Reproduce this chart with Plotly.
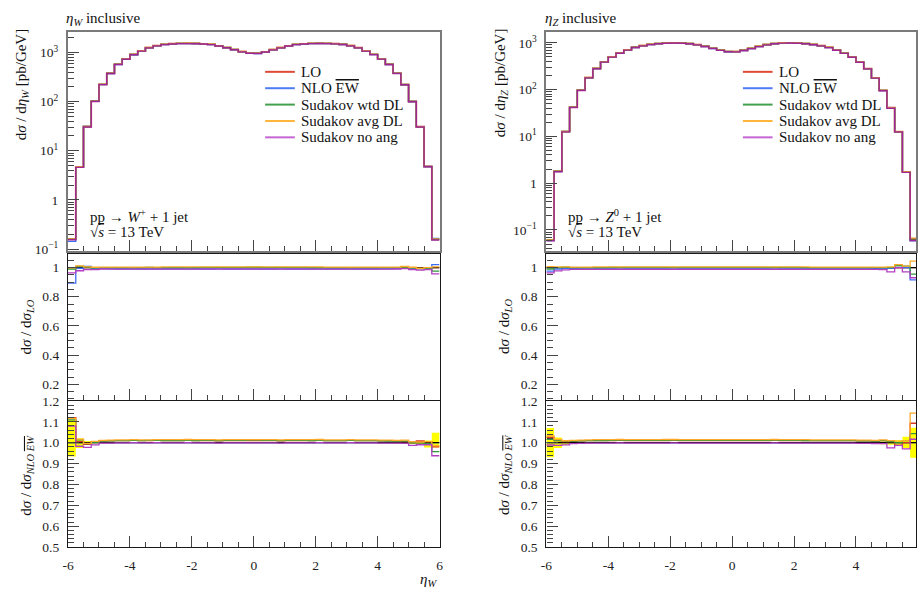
import numpy as np
import plotly.graph_objects as go

# ---------------- data ----------------
eta_min, eta_max, n_bins = -6.0, 6.0, 48
edges = np.linspace(eta_min, eta_max, n_bins + 1)

# LO differential cross sections [pb/GeV]
w_lo = [0.16, 4.7, 31, 102, 224, 377, 577, 737, 912, 1079, 1257, 1378,
        1465, 1510, 1530, 1535, 1528, 1505, 1462, 1370, 1262, 1150, 1040, 975,
        965, 1035, 1145, 1258, 1368, 1460, 1508, 1530, 1536, 1532, 1512, 1468,
        1380, 1255, 1080, 915, 740, 575, 378, 222, 101, 31, 4.8, 0.16]
z_lo = [0.061, 1.8, 12.7, 42, 97, 180, 283, 390, 500, 605, 705, 800,
        870, 925, 965, 990, 1000, 992, 962, 912, 842, 765, 695, 652,
        648, 690, 760, 838, 915, 965, 995, 1002, 988, 962, 922, 868,
        798, 700, 600, 495, 388, 280, 178, 96, 41, 12.5, 1.75, 0.064]

# ratios to LO (W)
w_nlo_r = [0.893, 0.995, 1.008, 0.996, 0.992, 0.991, 0.990, 0.990, 0.989, 0.990, 0.990, 0.989,
           0.990, 0.990, 0.990, 0.989, 0.990, 0.990, 0.990, 0.991, 0.990, 0.990, 0.990, 0.990,
           0.990, 0.990, 0.990, 0.991, 0.990, 0.990, 0.990, 0.990, 0.989, 0.990, 0.990, 0.990,
           0.989, 0.990, 0.990, 0.990, 0.991, 0.991, 0.992, 0.995, 0.998, 0.992, 0.995, 1.020]
w_wtd_r = [0.990, 1.008, 1.003, 0.998, 1.000, 1.000, 1.000, 1.000, 1.000, 1.000, 1.001, 1.000,
           1.000, 1.000, 1.000, 1.000, 1.000, 1.001, 1.001, 1.001, 1.001, 1.001, 1.001, 1.002,
           1.002, 1.001, 1.001, 1.001, 1.001, 1.001, 1.001, 1.000, 1.000, 1.000, 1.000, 1.000,
           1.000, 1.000, 1.000, 1.000, 1.000, 0.999, 1.000, 1.002, 0.998, 0.992, 0.990, 0.976]
w_avg_r = [0.997, 1.012, 1.005, 1.002, 1.003, 1.003, 1.003, 1.003, 1.003, 1.003, 1.003, 1.003,
           1.004, 1.004, 1.004, 1.004, 1.004, 1.004, 1.004, 1.004, 1.004, 1.004, 1.004, 1.004,
           1.004, 1.004, 1.004, 1.004, 1.004, 1.004, 1.004, 1.004, 1.004, 1.003, 1.003, 1.003,
           1.003, 1.003, 1.003, 1.003, 1.003, 1.003, 1.003, 1.007, 1.002, 0.995, 1.000, 1.005]
w_noang_r = [0.964, 0.978, 0.985, 0.985, 0.990, 0.989, 0.989, 0.989, 0.989, 0.989, 0.989, 0.989,
             0.989, 0.989, 0.989, 0.989, 0.989, 0.989, 0.989, 0.989, 0.989, 0.989, 0.989, 0.989,
             0.989, 0.989, 0.989, 0.989, 0.989, 0.989, 0.989, 0.989, 0.989, 0.989, 0.989, 0.989,
             0.989, 0.989, 0.989, 0.989, 0.989, 0.989, 0.990, 0.992, 0.985, 0.982, 0.985, 0.956]
# NLO EW uncertainty band relative to NLO (W)
w_band_hi = [1.110, 1.020, 1.008, 1.004, 1.003, 1.003, 1.002, 1.002, 1.002, 1.002, 1.002, 1.002,
             1.002, 1.002, 1.002, 1.002, 1.002, 1.002, 1.002, 1.002, 1.002, 1.002, 1.002, 1.002,
             1.002, 1.002, 1.002, 1.002, 1.002, 1.002, 1.002, 1.002, 1.002, 1.002, 1.002, 1.002,
             1.002, 1.002, 1.002, 1.002, 1.003, 1.003, 1.004, 1.005, 1.006, 1.008, 1.010, 1.047]
w_band_lo = [0.934, 0.975, 0.992, 0.996, 0.997, 0.997, 0.998, 0.998, 0.998, 0.998, 0.998, 0.998,
             0.998, 0.998, 0.998, 0.998, 0.998, 0.998, 0.998, 0.998, 0.998, 0.998, 0.998, 0.998,
             0.998, 0.998, 0.998, 0.998, 0.998, 0.998, 0.998, 0.998, 0.998, 0.998, 0.998, 0.998,
             0.998, 0.998, 0.998, 0.998, 0.997, 0.997, 0.996, 0.995, 0.994, 0.990, 0.977, 0.977]

# ratios to LO (Z)
z_nlo_r = [0.975, 0.990, 0.995, 0.992, 0.991, 0.990, 0.990, 0.990, 0.990, 0.989, 0.990, 0.990,
           0.990, 0.990, 0.990, 0.990, 0.989, 0.990, 0.990, 0.990, 0.990, 0.990, 0.990, 0.990,
           0.990, 0.990, 0.990, 0.990, 0.990, 0.989, 0.990, 0.990, 0.990, 0.990, 0.990, 0.990,
           0.990, 0.990, 0.990, 0.990, 0.991, 0.991, 0.992, 0.990, 0.995, 1.013, 1.000, 0.915]
z_wtd_r = [0.990, 1.000, 1.002, 1.000, 1.000, 1.000, 1.000, 1.000, 1.001, 1.001, 1.001, 1.001,
           1.001, 1.001, 1.001, 1.001, 1.001, 1.001, 1.001, 1.001, 1.001, 1.001, 1.001, 1.001,
           1.001, 1.001, 1.001, 1.001, 1.001, 1.001, 1.001, 1.001, 1.001, 1.000, 1.000, 1.000,
           1.000, 1.000, 1.000, 1.000, 1.000, 1.000, 1.000, 1.000, 1.000, 1.013, 1.010, 0.955]
z_avg_r = [1.006, 1.005, 1.004, 1.003, 1.003, 1.003, 1.004, 1.004, 1.004, 1.004, 1.004, 1.004,
           1.004, 1.004, 1.004, 1.005, 1.004, 1.004, 1.004, 1.004, 1.004, 1.004, 1.004, 1.004,
           1.004, 1.004, 1.004, 1.004, 1.004, 1.004, 1.004, 1.004, 1.004, 1.004, 1.003, 1.003,
           1.003, 1.003, 1.003, 1.003, 1.003, 1.003, 1.003, 1.003, 1.005, 1.020, 1.010, 1.044]
z_noang_r = [0.964, 0.977, 0.984, 0.987, 0.988, 0.988, 0.988, 0.988, 0.988, 0.988, 0.988, 0.988,
             0.988, 0.988, 0.988, 0.988, 0.988, 0.988, 0.988, 0.988, 0.988, 0.988, 0.988, 0.988,
             0.988, 0.988, 0.988, 0.988, 0.988, 0.988, 0.988, 0.988, 0.988, 0.988, 0.988, 0.988,
             0.988, 0.988, 0.988, 0.988, 0.988, 0.988, 0.988, 0.985, 0.970, 1.000, 0.970, 0.930]
z_band_hi = [1.070, 1.025, 1.010, 1.005, 1.003, 1.003, 1.002, 1.002, 1.002, 1.002, 1.002, 1.002,
             1.002, 1.002, 1.002, 1.002, 1.002, 1.002, 1.002, 1.002, 1.002, 1.002, 1.002, 1.002,
             1.002, 1.002, 1.002, 1.002, 1.002, 1.002, 1.002, 1.002, 1.002, 1.002, 1.002, 1.002,
             1.002, 1.002, 1.002, 1.002, 1.003, 1.003, 1.004, 1.006, 1.010, 1.012, 1.028, 1.071]
z_band_lo = [0.930, 0.975, 0.990, 0.995, 0.997, 0.997, 0.998, 0.998, 0.998, 0.998, 0.998, 0.998,
             0.998, 0.998, 0.998, 0.998, 0.998, 0.998, 0.998, 0.998, 0.998, 0.998, 0.998, 0.998,
             0.998, 0.998, 0.998, 0.998, 0.998, 0.998, 0.998, 0.998, 0.998, 0.998, 0.998, 0.998,
             0.998, 0.998, 0.998, 0.998, 0.997, 0.997, 0.996, 0.993, 0.990, 0.985, 0.975, 0.928]

OL = "<span style='text-decoration:overline'>EW</span>"
names = ["LO", "NLO " + OL, "Sudakov wtd DL", "Sudakov avg DL", "Sudakov no ang"]
colors = ["#d93a26", "#3f6cf5", "#33963a", "#ffa928", "#b23fc0"]
main_colors = ["#c0402a", "#3f6cf5", "#33963a", "#e0962a", "#a02696"]
legend_colors = ["#e04a35", "#4d7cf7", "#43a04c", "#ffb43c", "#c466d2"]

x_major = [-6, -4, -2, 0, 2, 4, 6]
x_major_text = ["-6", "-4", "-2", "0", "2", "4", "6"]

# ---------------- geometry ----------------
W, H = 920, 599
FONT = "Liberation Serif"


def px_x(p):
    return p / W


def px_y(p):
    return 1 - p / H


yd_main = [px_y(250), px_y(26)]
yd_r1 = [px_y(403.5), px_y(253)]
yd_r2 = [px_y(554), px_y(404)]

fig = go.Figure()


def step(vals):
    v = list(vals)
    return v + [v[-1]]


def line(xa, ya, vals, color, width=1.3, name=None):
    fig.add_trace(go.Scatter(
        x=edges, y=step(vals), mode="lines",
        line=dict(color=color, width=width, shape="hv"),
        xaxis=xa, yaxis=ya, name=name, showlegend=False, hoverinfo="skip"))


def band(xa, ya, lo, hi):
    fig.add_trace(go.Scatter(x=edges, y=step(hi), mode="lines",
                             line=dict(width=0, shape="hv", color="rgba(0,0,0,0)"),
                             xaxis=xa, yaxis=ya, showlegend=False, hoverinfo="skip"))
    fig.add_trace(go.Scatter(x=edges, y=step(lo), mode="lines",
                             line=dict(width=0, shape="hv", color="rgba(0,0,0,0)"),
                             fill="tonexty", fillcolor="#ffff00",
                             xaxis=xa, yaxis=ya, showlegend=False, hoverinfo="skip"))


def panel(lo, ratios, blo, bhi, axes):
    (xm, ym), (x1, y1), (x2, y2) = axes
    lo = np.array(lo, dtype=float)
    rs = [np.ones_like(lo)] + [np.array(r, dtype=float) for r in ratios]
    nlo = rs[1]
    # main
    for i, r in enumerate(rs):
        line(xm, ym, lo * r, main_colors[i], 1.7 if i == 0 else 1.4, names[i])
    # ratio to LO
    line(x1, y1, rs[0], colors[0], 1.3)
    line(x1, y1, rs[0], "#000000", 1.3)
    for i in range(1, 5):
        line(x1, y1, rs[i], colors[i], 1.3)
    # ratio to NLO EW
    band(x2, y2, blo, bhi)
    line(x2, y2, nlo / nlo, colors[1], 1.3)
    line(x2, y2, nlo / nlo, "#000000", 1.3)
    for i in [0, 2, 3, 4]:
        line(x2, y2, rs[i] / nlo, colors[i], 1.3)


panel(w_lo, [w_nlo_r, w_wtd_r, w_avg_r, w_noang_r], w_band_lo, w_band_hi,
      [("x", "y"), ("x2", "y2"), ("x3", "y3")])
panel(z_lo, [z_nlo_r, z_wtd_r, z_avg_r, z_noang_r], z_band_lo, z_band_hi,
      [("x4", "y4"), ("x5", "y5"), ("x6", "y6")])

# ---------------- axes ----------------
MAIN_LC = "#7a7a7a"
RAT_LC = "#1a1a1a"
TICK_C = "#444444"
tickfont = dict(family=FONT, size=13.5, color="#222222")


def xax(domain, rng, anchor, labels, lc, lw):
    return dict(domain=domain, range=rng, anchor=anchor,
                showline=True, mirror=True, linecolor=lc, linewidth=lw,
                ticks="inside", ticklen=11, tickwidth=1, tickcolor=TICK_C,
                tickmode="array", tickvals=x_major, ticktext=x_major_text,
                showticklabels=labels, tickfont=tickfont, ticklabelstandoff=6,
                minor=dict(ticks="inside", ticklen=5, tickwidth=1, tickcolor=TICK_C,
                           dtick=0.5, tick0=0, showgrid=False),
                showgrid=False, zeroline=False, fixedrange=True)


log_major = [0.1, 1, 10, 100, 1000]
log_major_text = ["10<sup>−1</sup>", "1", "10<sup>1</sup>", "10<sup>2</sup>", "10<sup>3</sup>"]
log_minor = [m * d for d in [0.01, 0.1, 1, 10, 100, 1000] for m in range(2, 10)]


def ylog(domain, rng, anchor):
    return dict(domain=domain, range=rng, anchor=anchor, type="log",
                showline=True, mirror=True, linecolor=MAIN_LC, linewidth=2,
                ticks="inside", ticklen=11, tickwidth=1, tickcolor=TICK_C,
                tickmode="array", tickvals=log_major, ticktext=log_major_text,
                tickfont=tickfont, ticklabelstandoff=5,
                minor=dict(ticks="inside", ticklen=6, tickwidth=1, tickcolor=TICK_C,
                           tickmode="array", tickvals=log_minor, showgrid=False),
                showgrid=False, zeroline=False, fixedrange=True)


def ylin(domain, rng, anchor, vals, texts, minor_dt):
    return dict(domain=domain, range=rng, anchor=anchor,
                showline=True, mirror=True, linecolor=RAT_LC, linewidth=1.3,
                ticks="inside", ticklen=11, tickwidth=1, tickcolor=TICK_C,
                tickmode="array", tickvals=vals, ticktext=texts,
                tickfont=tickfont, ticklabelstandoff=5,
                minor=dict(ticks="inside", ticklen=6, tickwidth=1, tickcolor=TICK_C,
                           dtick=minor_dt, tick0=0, showgrid=False),
                showgrid=False, zeroline=False, fixedrange=True)


r1_vals = [0.2, 0.4, 0.6, 0.8, 1.0]
r1_text = ["0.2", "0.4", "0.6", "0.8", "1"]
r2_vals = [0.5, 0.6, 0.7, 0.8, 0.9, 1.0, 1.1, 1.2]
r2_text = ["0.5", "0.6", "0.7", "0.8", "0.9", "1.0", "1.1", "1.2"]

xd_w = [px_x(62.7), px_x(438.3)]
xd_z = [px_x(546.3), 1.0]
xr_w = [-6, 6]
xr_z = [-6, -6 + (W - 546.3) / 31.3]

layout_axes = dict(
    xaxis=xax(xd_w, xr_w, "y", False, MAIN_LC, 2),
    yaxis=ylog(yd_main, [-1.035, 3.41], "x"),
    xaxis2=xax(xd_w, xr_w, "y2", False, RAT_LC, 1.3),
    yaxis2=ylin(yd_r1, [0.09, 1.095], "x2", r1_vals, r1_text, 0.05),
    xaxis3=xax(xd_w, xr_w, "y3", True, RAT_LC, 1.3),
    yaxis3=ylin(yd_r2, [0.5, 1.2], "x3", r2_vals, r2_text, 0.02),
    xaxis4=xax(xd_z, xr_z, "y4", False, MAIN_LC, 2),
    yaxis4=ylog(yd_main, [-1.444, 3.223], "x4"),
    xaxis5=xax(xd_z, xr_z, "y5", False, RAT_LC, 1.3),
    yaxis5=ylin(yd_r1, [0.09, 1.095], "x5", r1_vals, r1_text, 0.05),
    xaxis6=xax(xd_z, xr_z, "y6", True, RAT_LC, 1.3),
    yaxis6=ylin(yd_r2, [0.5, 1.2], "x6", r2_vals, r2_text, 0.02),
)

fig.update_layout(
    width=W, height=H, autosize=False,
    margin=dict(l=0, r=0, t=0, b=0),
    paper_bgcolor="white", plot_bgcolor="white",
    font=dict(family=FONT, size=14, color="#111111"),
    showlegend=False,
    **layout_axes,
)

# ---------------- text & legend ----------------
ann = []
shapes = []
PADX = 3


def text(x, y, s, xa="left", ya="middle", size=15, angle=0):
    xx = x - PADX if xa == "left" else x
    ann.append(dict(x=px_x(xx), y=px_y(y), xref="paper", yref="paper", text=s,
                    showarrow=False, xanchor=xa, yanchor=ya, textangle=angle,
                    font=dict(family=FONT, size=size, color="#111111")))


leg_row0, leg_dy = 66.5, 16.8
for off, b, sup in [(0, "W", "+"), (483.6, "Z", "0")]:
    text(62 + off, 12, "<i>η</i><sub><i>%s</i></sub> inclusive" % b)
    text(86 + off, 214, "pp → <i>%s</i><sup>%s</sup> + 1 jet" % (b, sup))
    text(86 + off, 231, "√<span style='text-decoration:overline'><i>s</i></span> = 13 TeV")
    text(17 + off, 20, "d<i>σ</i> / d<i>η</i><sub><i>%s</i></sub> [pb/GeV]" % b,
         xa="center", ya="top", angle=-90)
    text(21 + off, 328, "d<i>σ</i> / d<i>σ</i><sub><i>LO</i></sub>",
         xa="center", ya="middle", angle=-90)
    text(21 + off, 480, "d<i>σ</i> / d<i>σ</i><sub><i>NLO</i> <i>" + OL + "</i></sub>",
         xa="center", ya="middle", angle=-90)
    # legend (drawn manually for Rivet-like tight spacing)
    lx0 = 262 + (off - 0.6 if off else 0)
    for i in range(5):
        yy = leg_row0 + i * leg_dy
        shapes.append(dict(type="line", xref="paper", yref="paper",
                           x0=px_x(lx0), x1=px_x(lx0 + 30), y0=px_y(yy), y1=px_y(yy),
                           line=dict(color=legend_colors[i], width=2)))
        text(lx0 + 37, yy, names[i], size=15)

text(438, 588, "<i>η</i><sub><i>W</i></sub>", xa="right")

fig.update_layout(annotations=ann, shapes=shapes)

fig.write_html("out.html")
